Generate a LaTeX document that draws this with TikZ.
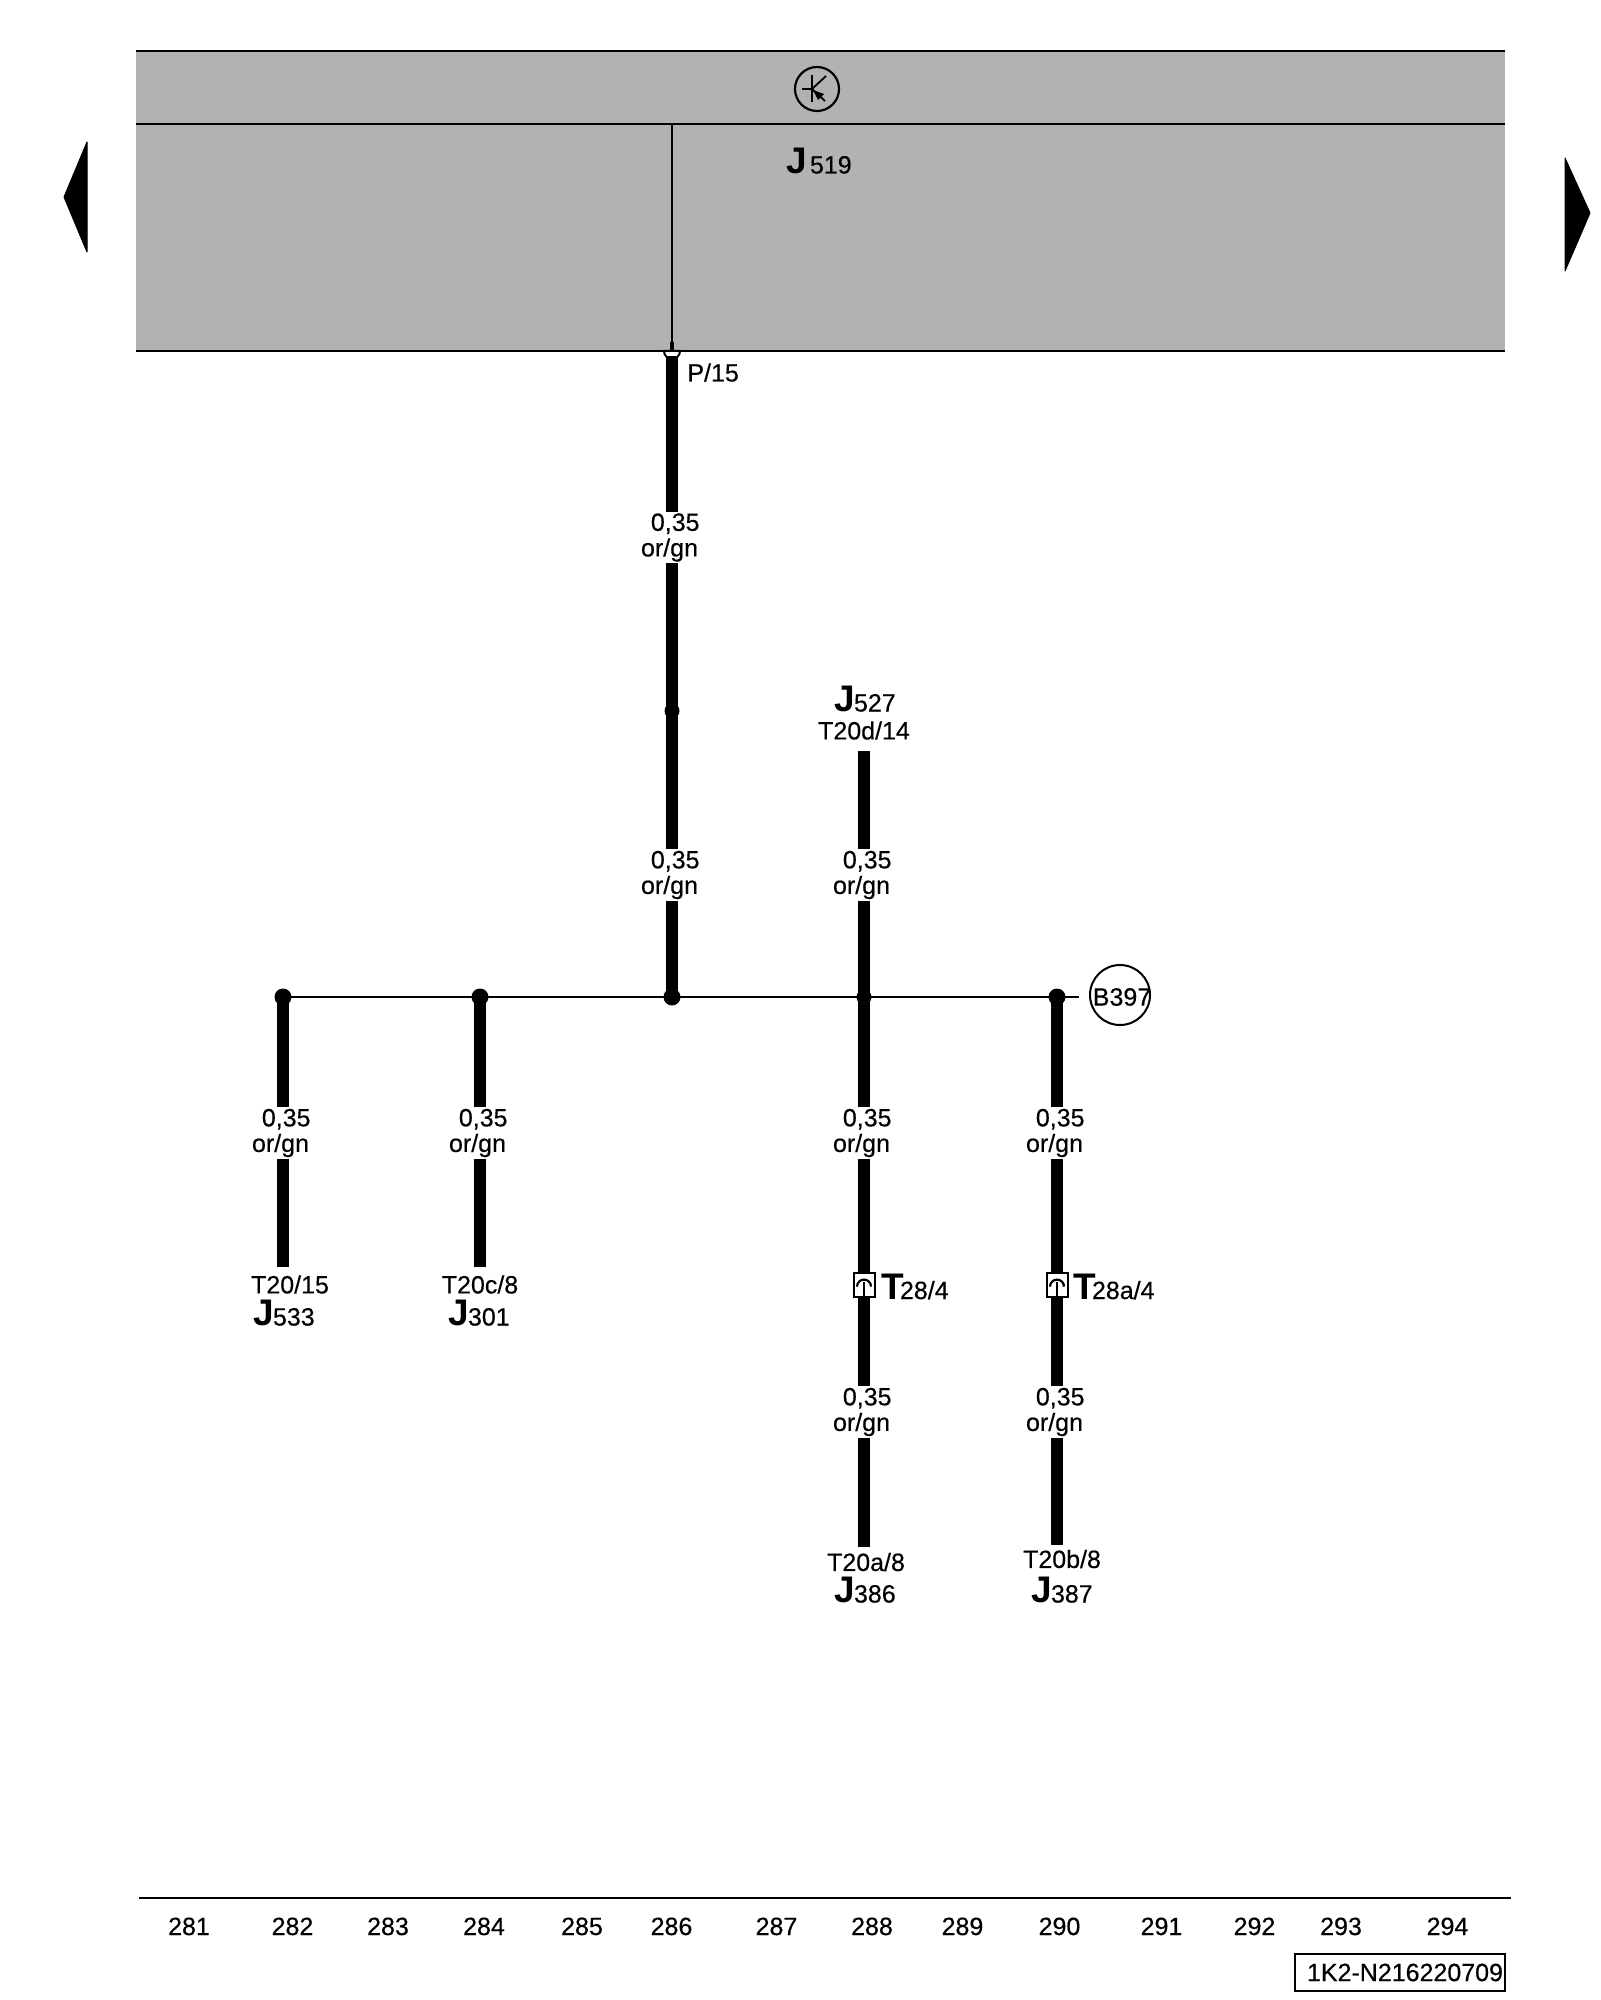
\documentclass[tikz,border=0pt]{standalone}
\usepackage{fontspec}
\setmainfont{Liberation Sans}
\newfontfamily\labfont[FakeBold=0.4]{Liberation Sans}
\newcommand{\txt}{\labfont\fontsize{12.5pt}{12.8pt}\selectfont}
\newcommand{\jlab}[2]{{\fontsize{18.5pt}{20pt}\selectfont\bfseries #1}\hspace{-0.5pt}{\txt #2}}
\newcommand{\jlabw}[2]{{\fontsize{18.5pt}{20pt}\selectfont\bfseries #1}\hspace{1.5pt}{\txt #2}}
\newcommand{\tlab}[2]{{\fontsize{18.5pt}{20pt}\selectfont\bfseries #1}\hspace{-2pt}{\txt #2}}
\newcommand{\sizecol}{\hspace*{3.2pt}0,35\\or/gn\hspace*{2.5pt}}
\definecolor{panel}{HTML}{B2B2B2}
\tikzset{
  x=0.5pt,y=-0.5pt,
  thin wire/.style={line width=1pt,black},
  thick wire/.style={line width=5.6pt,black},
  junction/.style={circle,fill=black,inner sep=0pt,minimum size=8.5pt},
  small junction/.style={circle,fill=black,inner sep=0pt,minimum size=7.5pt},
  wirelabel/.style={align=center,inner sep=0pt,minimum height=25.5pt,font=\txt},
  tag/.style={inner sep=0pt,font=\txt},
  basetag/.style={inner sep=0pt,anchor=base west},
  plug/.style={draw=black,line width=1pt,fill=white,inner sep=0pt,minimum width=10.5pt,minimum height=12pt},
  arrowmark/.style={fill=black,draw=black,line width=0.5pt,line join=round},
}
\begin{document}
\begin{tikzpicture}
\useasboundingbox (0,0) rectangle (1600,2000);
% control unit panel
\fill[panel] (136,51) rectangle (1505,351);
\coordinate (pl1) at (136,51); \coordinate (pr1) at (1505,51);
\coordinate (pl2) at (136,124); \coordinate (pr2) at (1505,124);
\coordinate (pl3) at (136,351); \coordinate (pr3) at (1505,351);
\coordinate (pintop) at (672,124); \coordinate (pin) at (672,351);
% pin
\draw[line width=1pt,fill=white] (664,351) arc[start angle=180,end angle=360,radius=4pt] -- cycle;
\draw[thin wire] (pl1) -- (pr1);
\draw[thin wire] (pl2) -- (pr2);
\draw[thin wire] (pl3) -- (pr3);
\draw[thin wire] (pintop) -- (pin);
\draw[line width=1.6pt] (672,342) -- (pin);
% transistor symbol
\node[circle,draw=black,line width=1.1pt,inner sep=0pt,minimum size=22pt] (trans) at (817,89) {};
\coordinate (tb) at (802,89); \coordinate (tc) at (812,89);
\draw[line width=0.9pt] (tb) -- (tc);
\draw[line width=1pt] (812,75) -- (812,102);
\draw[line width=0.9pt] (tc) -- (826,76);
\draw[line width=0.9pt] (tc) -- (825,101);
\fill (813,90) -- (824,94) -- (818,100) -- cycle;
% side arrows
\fill[arrowmark] (87,142) -- (64,197) -- (87,252) -- cycle;
\fill[arrowmark] (1565,158) -- (1590,213) -- (1565,271) -- cycle;
% labels on the panel
\node[basetag] (j519) at (786,173.5) {\jlabw{J}{519}};
\node[basetag,font=\txt] (p15) at (687,381.5) {P/15};
% junctions
\node[junction] (ja) at (283,997) {};
\node[junction] (jb) at (480,997) {};
\node[junction] (jc) at (672,997) {};
\node[small junction] (jd) at (864,997) {};
\node[junction] (je) at (1057,997) {};
\node[small junction] (jm) at (672,711) {};
\coordinate (busend) at (1079,997);
% B397
\node[circle,draw=black,line width=1pt,inner sep=0pt,minimum size=30pt] (b397) at (1120,995) {};
\node[tag] (b397t) at (1122,997) {B397};
% wire labels
\node[wirelabel] (l1) at (672,537.5) {\sizecol};
\node[wirelabel] (l2) at (672,875) {\sizecol};
\node[wirelabel] (l3) at (864,875) {\sizecol};
\node[wirelabel] (l4) at (283,1133) {\sizecol};
\node[wirelabel] (l5) at (480,1133) {\sizecol};
\node[wirelabel] (l6) at (864,1133) {\sizecol};
\node[wirelabel] (l7) at (1057,1133) {\sizecol};
\node[wirelabel] (l8) at (864,1412) {\sizecol};
\node[wirelabel] (l9) at (1057,1412) {\sizecol};
% plugs
\node[plug] (p1) at (864,1285) {};
\node[plug] (p2) at (1057,1285) {};
\foreach \p in {p1,p2}{
  \draw[line width=1.1pt] ([xshift=-3.5pt,yshift=-0.8pt]\p.center) arc[start angle=180,end angle=0,radius=3.5pt];
  \draw[line width=1.4pt] ([yshift=1.5pt]\p.center) -- (\p.south);
}
\node[basetag] (t28) at (881,1299) {\tlab{T}{28/4}};
\node[basetag] (t28a) at (1073,1299) {\tlab{T}{28a/4}};
% end labels
\coordinate (w527) at (864,751);
\node[tag] (t527) at (864,730.5) {T20d/14};
\node[basetag] (j527) at (834,711.5) {\jlab{J}{527}};
\coordinate (w533) at (283,1267);
\node[tag] (t533) at (290,1284.5) {T20/15};
\node[basetag] (j533) at (253,1325.5) {\jlab{J}{533}};
\coordinate (w301) at (480,1267);
\node[tag] (t301) at (480,1284.5) {T20c/8};
\node[basetag] (j301) at (448,1325.5) {\jlab{J}{301}};
\coordinate (w386) at (864,1547);
\node[tag] (t386) at (866,1562) {T20a/8};
\node[basetag] (j386) at (834,1602.5) {\jlab{J}{386}};
\coordinate (w387) at (1057,1545);
\node[tag] (t387) at (1062,1559) {T20b/8};
\node[basetag] (j387) at (1031,1602.5) {\jlab{J}{387}};
% bus
\draw[thin wire] (ja.center) -- (busend);
% thick wires
\draw[thick wire] (672,356) -- (l1.north -| 672,356);
\draw[thick wire] (l1.south -| jm) -- (jm.center);
\draw[thick wire] (jm.center) -- (l2.north -| jm);
\draw[thick wire] (l2.south -| jc) -- (jc.center);
\draw[thick wire] (w527) -- (l3.north);
\draw[thick wire] (l3.south) -- (jd.center);
\draw[thick wire] (jd.center) -- (l6.north);
\draw[thick wire] (l6.south) -- (p1.north);
\draw[thick wire] (p1.south) -- (l8.north);
\draw[thick wire] (l8.south) -- (w386);
\draw[thick wire] (je.center) -- (l7.north);
\draw[thick wire] (l7.south) -- (p2.north);
\draw[thick wire] (p2.south) -- (l9.north);
\draw[thick wire] (l9.south) -- (w387);
\draw[thick wire] (ja.center) -- (l4.north);
\draw[thick wire] (l4.south) -- (w533);
\draw[thick wire] (jb.center) -- (l5.north);
\draw[thick wire] (l5.south) -- (w301);
% footer
\coordinate (fl) at (139,1898); \coordinate (fr) at (1511,1898);
\draw[thin wire] (fl) -- (fr);
\foreach \n/\x in {281/189,282/292.5,283/388,284/484,285/582,286/671.5,287/776.5,288/872,289/962.5,290/1059.5,291/1161.5,292/1254.5,293/1341,294/1447.5}{
  \node[inner sep=0pt,anchor=base,font=\txt] (n\n) at (\x,1935) {\n};
}
\node[draw=black,line width=1pt,inner sep=0pt,minimum width=105pt,minimum height=18.5pt,font=\txt] (code) at (1400,1972.5) {\hspace*{5pt}1K2-N216220709};
\end{tikzpicture}
\end{document}
